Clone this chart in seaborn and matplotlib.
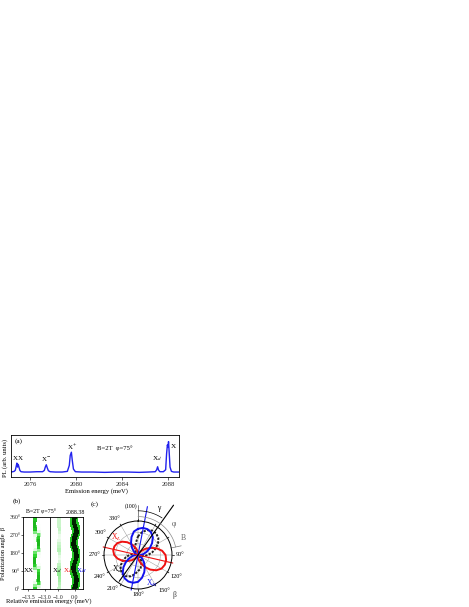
"""PL spectrum, polarization map and polar plot, three panels on a white page."""

import numpy as np
import pandas as pd
import matplotlib
matplotlib.use("Agg")
import matplotlib.pyplot as plt
from matplotlib.colors import LinearSegmentedColormap
import seaborn as sns

W, H = 469, 607

# ── Data ─────────────────────────────────────────────────────────────────────

# (a) spectrum, energy in meV, PL in arb. units
spec_energy = [2074.35, 2074.5, 2074.62, 2074.72, 2074.8, 2074.86, 2074.92, 2074.98, 2075.05, 2075.12, 2075.22,
               2075.5, 2076.0, 2076.6, 2077.1, 2077.25, 2077.33, 2077.42, 2077.5, 2077.6, 2077.75,
               2078.2, 2078.8, 2079.25, 2079.42, 2079.5, 2079.6, 2079.68, 2079.78, 2079.95,
               2080.5, 2081.5, 2082.5, 2083.5, 2084.5, 2085.5, 2086.3, 2086.9, 2087.02, 2087.1, 2087.18, 2087.3,
               2087.6, 2087.8, 2087.88, 2087.95, 2088.0, 2088.05, 2088.1, 2088.18, 2088.3, 2088.5, 2088.96]
spec_pl = [15, 16, 17, 20, 32, 42, 30, 38, 29, 20, 16,
           15, 15, 16, 16, 20, 30, 37, 28, 19, 16,
           15, 15, 17, 35, 65, 75, 50, 24, 16,
           15, 15, 14, 15, 15, 14, 15, 16, 22, 31, 21, 16,
           16, 22, 70, 97, 90, 107, 78, 30, 17, 15, 15]
spec_ticks = [2076, 2080, 2084, 2088]

# (b) ridge positions (meV) and intensities against polarization angle
beta = list(range(0, 361, 15))
xx_low = [-13.30, -13.30, -13.31, -13.31, -13.30, -13.30, -13.29, -13.30, -13.31, -13.31, -13.31, -13.30, -13.30,
          -13.29, -13.30, -13.30, -13.31, -13.31, -13.30, -13.30, -13.30, -13.31, -13.31, -13.30, -13.30]
xx_low_i = [.75, .45, .12, .03, .02, .03, .10, .45, .75, .85, .85, .70, .55, .22, .05, .02, .02, .04, .12, .50, .80, .85,
            .85, .80, .75]
xx_high = [-13.19, -13.19, -13.19, -13.20, -13.20, -13.20, -13.20, -13.19, -13.19, -13.20, -13.20, -13.19, -13.19,
           -13.19, -13.20, -13.20, -13.20, -13.20, -13.19, -13.19, -13.19, -13.19, -13.20, -13.20, -13.19]
xx_high_i = [.05, .25, .65, .85, .85, .80, .65, .25, .05, .02, .02, .05, .10, .45, .75, .85, .85, .75, .55, .15, .03,
             .02, .02, .04, .05]
xd_pos = [-0.95, -0.94, -0.92, -0.92, -0.93, -0.95, -0.97, -0.97, -0.96, -0.94, -0.92, -0.92, -0.94,
          -0.96, -0.97, -0.97, -0.95, -0.93, -0.92, -0.92, -0.94, -0.96, -0.97, -0.96, -0.95]
xd_i = [.30, .32, .35, .38, .40, .42, .38, .35, .32, .20, .10, .15, .30, .35, .32, .28, .15, .10, .12, .25, .32, .30,
        .30, .30, .30]
main_pos = [-0.02, 0.02, 0.06, 0.08, 0.06, 0.0, -0.06, -0.08, -0.05, 0.0, 0.05, 0.08, 0.06,
            0.02, -0.04, -0.08, -0.06, -0.02, 0.04, 0.08, 0.06, 0.0, -0.05, -0.07, -0.02]
main_i = [.95, .97, 1.0, 1.0, .97, .95, 1.0, 1.0, .97, .95, .97, 1.0, 1.0, .97, .95, 1.0, 1.0, .97, .95, .97, 1.0, 1.0,
          .97, .95, .95]
beta_ticks = [0, 90, 180, 270, 360]
beta_labels = ["0°", "90°", "180°", "270°", "360°"]

# (c) polar lobes, angle in degrees, radius relative to the outer circle
lobe_angle = list(range(0, 360, 10))
lobe_red = [.08, .05, .05, .09, .16, .28, .42, .58, .72, .81, .84, .84, .80, .70, .56, .41, .27, .16,
            .08, .05, .05, .08, .14, .24, .36, .49, .61, .70, .74, .74, .70, .61, .49, .36, .24, .14]
lobe_blue = [.77, .81, .81, .77, .68, .54, .40, .27, .16, .08, .05, .05, .08, .16, .27, .40, .54, .68,
             .79, .83, .83, .79, .70, .56, .41, .27, .16, .08, .05, .05, .08, .16, .27, .41, .56, .70]
lobe_black = [.55, .68, .78, .83, .83, .78, .68, .55, .42, .29, .18, .10, .06, .06, .10, .18, .29, .42,
              .47, .58, .67, .72, .72, .67, .58, .47, .36, .25, .16, .09, .06, .06, .09, .16, .25, .36]
ray_angle = [103, 11, 35.5]
ray_forward = [1.05, 1.45, 1.8]
ray_back = [1.05, 1.05, 0.95]
ray_color = ["#ee1111", "#1111ee", "black"]
polar_ticks = [90, 120, 150, 180, 210, 240, 270, 300, 330]

# ── Setup ────────────────────────────────────────────────────────────────────

sns.set_theme(style="ticks")
plt.rcParams["font.family"] = ["Liberation Serif", "DejaVu Sans"]
plt.rcParams["mathtext.fontset"] = "stix"
plt.rcParams["font.size"] = 5
plt.rcParams["axes.linewidth"] = 0.6
plt.rcParams["xtick.major.width"] = 0.5
plt.rcParams["ytick.major.width"] = 0.5
plt.rcParams["xtick.major.size"] = 2
plt.rcParams["ytick.major.size"] = 2
plt.rcParams["axes.edgecolor"] = "black"
plt.rcParams["text.color"] = "black"

fig = plt.figure(figsize=(W / 100, H / 100), dpi=100, facecolor="white")


def box(left, top, right, bottom, **kw):
    return fig.add_axes([left / W, 1 - bottom / H, (right - left) / W, (bottom - top) / H], **kw)


def label(x, y, s, **kw):
    kw.setdefault("fontsize", 5)
    kw.setdefault("ha", "center")
    kw.setdefault("va", "center")
    fig.text(x / W, 1 - y / H, s, **kw)


# ── (a) spectrum ─────────────────────────────────────────────────────────────

ax_a = box(11, 435, 179, 477)
sns.lineplot(data=pd.DataFrame({"e": spec_energy, "pl": spec_pl}), x="e", y="pl",
             color="#2222ee", lw=1.0, ax=ax_a, estimator=None)
ax_a.set_xlim(2074.35, 2088.96)
ax_a.set_ylim(0, 127)
ax_a.set_xticks(spec_ticks)
ax_a.set_yticks([])
ax_a.tick_params(axis="x", labelsize=4.8, pad=1.5, length=2)
ax_a.set_xlabel("")
ax_a.set_ylabel("")

label(19, 441, "(a)", fontsize=5.2)
label(15, 459, "X", fontsize=5)
label(20, 459, "X", fontsize=5)
label(46, 459, "X$^{-}$", fontsize=5)
label(72, 447, "X$^{+}$", fontsize=5)
label(157, 459, "X$_{d}$", fontsize=5.2)
label(173, 446, "X", fontsize=5.2)
label(115, 448, "B=2T  φ=75°", fontsize=4.8)
label(96, 491, "Emission energy (meV)", fontsize=4.8)
label(5, 458, "PL (arb. units)", fontsize=4.8, rotation=90)

# ── (b) map ──────────────────────────────────────────────────────────────────

green_map = LinearSegmentedColormap.from_list(
    "pl_green", ["#ffffff", "#c8f5c8", "#33dd33", "#0a9a0a", "#003300", "#000000"])


def ridge(ax, pos, inten, size, scale=1.0):
    table = pd.DataFrame({"pos": pos, "beta": beta, "i": np.array(inten) * scale})
    ordered = table.sort_values("i")
    sns.scatterplot(data=ordered, x="pos", y="beta", hue="i", palette=green_map, hue_norm=(0, 1),
                    s=size, marker="s", linewidth=0, legend=False, ax=ax, clip_on=True)


ax_b1 = box(23.3, 517, 50, 589)
ridge(ax_b1, xx_low, xx_low_i, 9, 0.4)
ridge(ax_b1, xx_high, xx_high_i, 9, 0.4)
ridge(ax_b1, xx_low, xx_low_i, 5, 0.6)
ridge(ax_b1, xx_high, xx_high_i, 5, 0.6)
ax_b1.set_xlim(-13.65, -12.85)
ax_b1.set_ylim(0, 360)
ax_b1.set_xticks([-13.5, -13.0])
ax_b1.set_xticklabels(["−13.5", "−13.0"])
ax_b1.set_yticks(beta_ticks)
ax_b1.set_yticklabels(beta_labels)
ax_b1.tick_params(labelsize=4.2, pad=2.5, direction="out", length=1.5)
ax_b1.tick_params(axis="y", pad=0.8, length=1.2)
ax_b1.set_xlabel("")
ax_b1.set_ylabel("")

ax_b2 = box(50, 517, 83.3, 589)
ridge(ax_b2, xd_pos, xd_i, 6, 0.65)
ridge(ax_b2, main_pos, main_i, 30, 0.48)
ridge(ax_b2, main_pos, main_i, 10, 0.9)
ax_b2.set_xlim(-1.5, 0.5)
ax_b2.set_ylim(0, 360)
ax_b2.set_xticks([-1.0, 0.0])
ax_b2.set_xticklabels(["−1.0", "0.0"])
ax_b2.set_yticks([])
ax_b2.tick_params(labelsize=4.2, pad=2.5, direction="out", length=1.5)
ax_b2.set_xlabel("")
ax_b2.set_ylabel("")

label(17, 501, "(b)", fontsize=5.2)
label(41, 511, "B=2T φ=75°", fontsize=4.2)
label(75, 513, "2088.38", fontsize=4.2)
label(29, 571, "XX", fontsize=5)
label(57, 571, "X$_{d}$", fontsize=5)
label(68, 571, "X$_{L}$", fontsize=5, color="#ee1111")
label(81, 571, "X$_{H}$", fontsize=5, color="#1111ee")
label(49, 601, "Relative emission energy (meV)", fontsize=4.8)
label(4, 553, "Polarization angle  β", fontsize=4.6, rotation=90)

# ── (c) polar ────────────────────────────────────────────────────────────────

ax_c = box(104, 521, 172, 589, projection="polar")
ax_c.set_theta_zero_location("N")
ax_c.set_theta_direction(-1)
ax_c.set_rlim(0, 1)
ax_c.set_rticks([0.33, 0.66])
ax_c.set_yticklabels([])
ax_c.set_thetagrids(range(0, 360, 30), labels=[])
ax_c.grid(color="#999999", lw=0.35)
ax_c.spines["polar"].set_linewidth(0.7)

for values, col in zip([lobe_black, lobe_red, lobe_blue], ["#222222", "#ee1111", "#1111ee"]):
    closed_t = np.deg2rad(lobe_angle + lobe_angle[:1])
    closed_r = values + values[:1]
    frame = pd.DataFrame({"t": closed_t, "r": closed_r})
    sns.lineplot(data=frame, x="t", y="r", color=col, lw=1.4, sort=False, estimator=None, ax=ax_c,
                 ls=(0, (1.2, 0.7)) if col == "#222222" else "-")
ax_c.set_xlabel("")
ax_c.set_ylabel("")

for ang, fwd, back, col in zip(ray_angle, ray_forward, ray_back, ray_color):
    t = np.deg2rad(ang)
    ax_c.plot([t, t], [0, fwd], color=col, lw=0.8, clip_on=False)
    ax_c.plot([t + np.pi, t + np.pi], [0, back], color=col, lw=0.8, clip_on=False)

# outer direction marks: crystal axis, B direction, angle arcs, rim ticks
ax_c.plot([0, 0], [1, 1.48], color="#555555", lw=0.5, clip_on=False)
ax_c.plot(np.deg2rad([78, 78]), [1, 1.3], color="#777777", lw=0.5, clip_on=False)
arc_gamma = np.deg2rad(np.arange(0, 36, 3))
ax_c.plot(arc_gamma, np.full(arc_gamma.size, 1.3), color="black", lw=0.5, clip_on=False)
arc_phi = np.deg2rad(np.arange(0, 79, 3))
ax_c.plot(arc_phi, np.full(arc_phi.size, 1.13), color="#888888", lw=0.5, clip_on=False)
for deg in range(0, 360, 30):
    ax_c.plot(np.deg2rad([deg, deg]), [1, 1.05], color="black", lw=0.5, clip_on=False)
ax_c.set_rlim(0, 1)

tick_pos = {90: (180, 554), 120: (176, 577), 150: (164, 591), 180: (138, 595), 210: (113, 589),
            240: (100, 576), 270: (95, 554), 300: (101, 532), 330: (115, 518)}
for deg in polar_ticks:
    x, y = tick_pos[deg]
    label(x, y, f"{deg}°", fontsize=4.5)

label(95, 504, "(c)", fontsize=5.2)
label(131, 506, "(100)", fontsize=4.2)
label(159, 508, "γ", fontsize=5.5)
label(174, 524, "φ", fontsize=5.5, color="#555555")
label(183, 538, "B", fontsize=5.5, color="#666666")
label(174, 595, "β", fontsize=5.5, color="#444444")
label(116, 537, "X$_{L}$", fontsize=5.5, color="#ee1111")
label(117, 569, "X$_{d}$", fontsize=5.5)
label(152, 583, "X$_{H}$", fontsize=5.5, color="#1111ee")

fig.savefig("out.png", dpi=100, facecolor="white")
